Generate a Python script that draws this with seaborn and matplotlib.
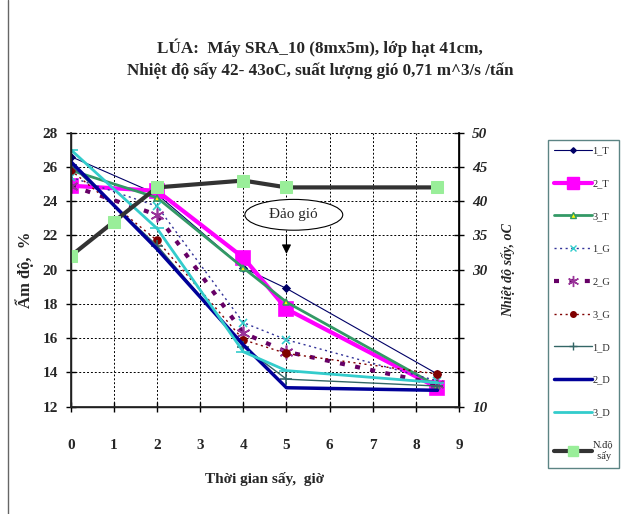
import matplotlib

matplotlib.use("Agg")
import matplotlib.pyplot as plt
import numpy as np
import pandas as pd
import seaborn as sns
from matplotlib.lines import Line2D
from matplotlib.patches import Ellipse

# time points (hours)
hours = [0, 2, 4, 5, 8.5]
temp_hours = [0, 1, 2, 4, 5, 8.5]

# moisture, %
moist_1t = [26.6, 24.4, 20.1, 18.9, 13.9]
moist_2t = [24.9, 24.6, 20.7, 17.7, 13.1]
moist_3t = [25.8, 24.2, 20.1, 18.1, 13.2]
moist_1g = [25.4, 23.7, 16.9, 15.9, 13.5]
moist_2g = [24.9, 23.2, 16.3, 15.2, 13.3]
moist_3g = [25.8, 21.7, 15.9, 15.1, 13.9]
moist_1d = [26.1, 21.4, 15.5, 13.6, 13.2]
moist_2d = [26.3, 21.2, 15.6, 13.1, 12.95]
moist_3d = [27.0, 22.4, 15.2, 14.1, 13.4]

# drying temperature, oC
temperature = [32, 37, 42, 43, 42, 42]

series_names = ["1_T", "2_T", "3_T", "1_G", "2_G", "3_G", "1_D", "2_D", "3_D"]
series_values = [moist_1t, moist_2t, moist_3t, moist_1g, moist_2g,
                 moist_3g, moist_1d, moist_2d, moist_3d]

left_ticks = [12, 14, 16, 18, 20, 22, 24, 26, 28]
right_ticks = [10, 15, 20, 25, 30, 35, 40, 45, 50]
right_labels = ["10", "", "", "", "30", "35", "40", "45", "50"]
x_ticks = list(range(10))

title_text = ("LÚA:  Máy SRA_10 (8mx5m), lớp hạt 41cm,\n"
              "Nhiệt độ sấy 42- 43oC, suất lượng gió 0,71 m^3/s /tấn")

STYLES = {
    "1_T": dict(color="#000066", lw=0.8, ls="-", marker="D", ms=3.5, mfc="#000066", mec="#000066"),
    "2_T": dict(color="#FF00FF", lw=3.0, ls="-", marker="s", ms=10, mfc="#FF00FF", mec="#FF00FF"),
    "3_T": dict(color="#339966", lw=2.0, ls="-", marker="^", ms=5, mfc="#FFFF00", mec="#339966"),
    "1_G": dict(color="#333399", lw=1.0, ls=(0, (1.5, 2.5)), marker="x", ms=6, mfc="#33CCCC", mec="#33CCCC"),
    "2_G": dict(color="#660066", lw=3.0, ls=(0, (1.2, 2.5)), marker=(6, 2, 0), ms=10, mfc="#993399", mec="#993399"),
    "3_G": dict(color="#800000", lw=1.0, ls=(0, (1.5, 2.5)), marker="o", ms=5, mfc="#800000", mec="#800000"),
    "1_D": dict(color="#336666", lw=1.0, ls="-", marker="+", ms=8, mfc="#336666", mec="#336666"),
    "2_D": dict(color="#000099", lw=2.5, ls="-", marker="", ms=0, mfc="none", mec="none"),
    "3_D": dict(color="#33CCCC", lw=2.0, ls="-", marker="_", ms=10, mfc="#33CCCC", mec="#33CCCC"),
}
TEMP_STYLE = dict(color="#333333", lw=3.0, ls="-", marker="s", ms=9, mfc="#99EE99", mec="#99EE99")

sns.set_theme(style="white")
plt.rcParams["font.family"] = ["Liberation Serif", "DejaVu Serif"]
plt.rcParams["font.weight"] = "bold"

fig = plt.figure(figsize=(6.27, 5.14), dpi=100)
ax = fig.add_axes([0.113, 0.209, 0.619, 0.533])

for name, values in zip(series_names, series_values):
    st = STYLES[name]
    sns.lineplot(x=hours, y=values, ax=ax, color=st["color"], linewidth=st["lw"],
                 linestyle=st["ls"], marker=st["marker"] or None, markersize=st["ms"],
                 markerfacecolor=st["mfc"], markeredgecolor=st["mec"],
                 markeredgewidth=1.2, errorbar=None, sort=False)

ax.set_xlim(0, 9)
ax.set_ylim(12, 28)
ax.set_xticks(x_ticks)
ax.set_yticks(left_ticks)
ax.grid(True, color="black", linestyle=(0, (2, 2)), linewidth=0.7)
ax.tick_params(axis="both", direction="inout", length=7, width=1, color="black",
               labelsize=11, left=True, bottom=True)
ax.tick_params(axis="x", pad=20)
ax.tick_params(axis="y", pad=6)
for label in ax.get_xticklabels() + ax.get_yticklabels():
    label.set_fontweight("bold")
for side in ["left", "bottom", "right"]:
    ax.spines[side].set_color("black")
    ax.spines[side].set_linewidth(1.0)
ax.spines["top"].set_visible(False)
ax.set_xlabel("Thời gian sấy,  giờ", fontsize=11, fontweight="bold", labelpad=14)
ax.set_ylabel("Ẩm độ,  %", fontsize=12, fontweight="bold", labelpad=6)

ax2 = ax.twinx()
sns.lineplot(x=temp_hours, y=temperature, ax=ax2, color=TEMP_STYLE["color"],
             linewidth=TEMP_STYLE["lw"], linestyle=TEMP_STYLE["ls"], marker="s",
             markersize=TEMP_STYLE["ms"], markerfacecolor=TEMP_STYLE["mfc"],
             markeredgecolor=TEMP_STYLE["mec"], errorbar=None, sort=False)
ax2.set_ylim(10, 50)
ax2.set_yticks(right_ticks)
ax2.set_yticklabels(right_labels, fontstyle="italic", fontweight="bold")
ax2.tick_params(axis="y", direction="inout", length=7, width=1, color="black",
                labelsize=11, right=True, pad=6)
ax2.spines["top"].set_visible(False)
ax2.spines["right"].set_color("black")
ax2.set_ylabel("Nhiệt độ sấy, oC", fontsize=10, fontweight="bold", fontstyle="italic", labelpad=10)

# "Đảo gió" callout
ell = Ellipse((5.17, 23.2), width=2.27, height=1.8, transform=ax.transData,
              facecolor="white", edgecolor="black", linewidth=0.8, zorder=5)
ax2.add_patch(ell)
ax2.text(5.17, 23.2, "Đảo gió", transform=ax.transData, ha="center", va="center",
         fontsize=11, fontweight="normal", zorder=6)
ax2.annotate("", xy=(5, 20.75), xytext=(5, 22.2), xycoords=ax.transData,
             textcoords=ax.transData,
             arrowprops=dict(arrowstyle="-|>", color="black", lw=0.8, mutation_scale=14),
             zorder=6)

# legend
handles = []
for name in series_names:
    st = STYLES[name]
    handles.append(Line2D([], [], color=st["color"], lw=st["lw"], ls=st["ls"],
                          marker=st["marker"] or None, ms=st["ms"] * 0.8,
                          mfc=st["mfc"], mec=st["mec"]))
handles.append(Line2D([], [], color=TEMP_STYLE["color"], lw=TEMP_STYLE["lw"],
                      marker="s", ms=7, mfc=TEMP_STYLE["mfc"], mec=TEMP_STYLE["mec"]))
labels = series_names + ["N.độ\n  sấy"]
leg = fig.legend(handles, labels, loc="upper left", bbox_to_anchor=(548 / 627, 1 - 140 / 514),
                 frameon=True, fancybox=False, edgecolor="#336666", fontsize=7.5,
                 handlelength=3.6, handletextpad=0.05, labelspacing=2.25,
                 borderpad=0.6, borderaxespad=0)
leg.get_frame().set_linewidth(1.0)
for t in leg.get_texts():
    t.set_fontweight("normal")

fig.suptitle(title_text, x=0.51, y=0.925, fontsize=12.3, fontweight="bold",
             linespacing=1.4)

# outer chart frame (left edge visible)
fig.add_artist(Line2D([8 / 627, 8 / 627], [0, 1], color="#666666", lw=1.0,
                      transform=fig.transFigure))

fig.savefig("out.png", dpi=100)
